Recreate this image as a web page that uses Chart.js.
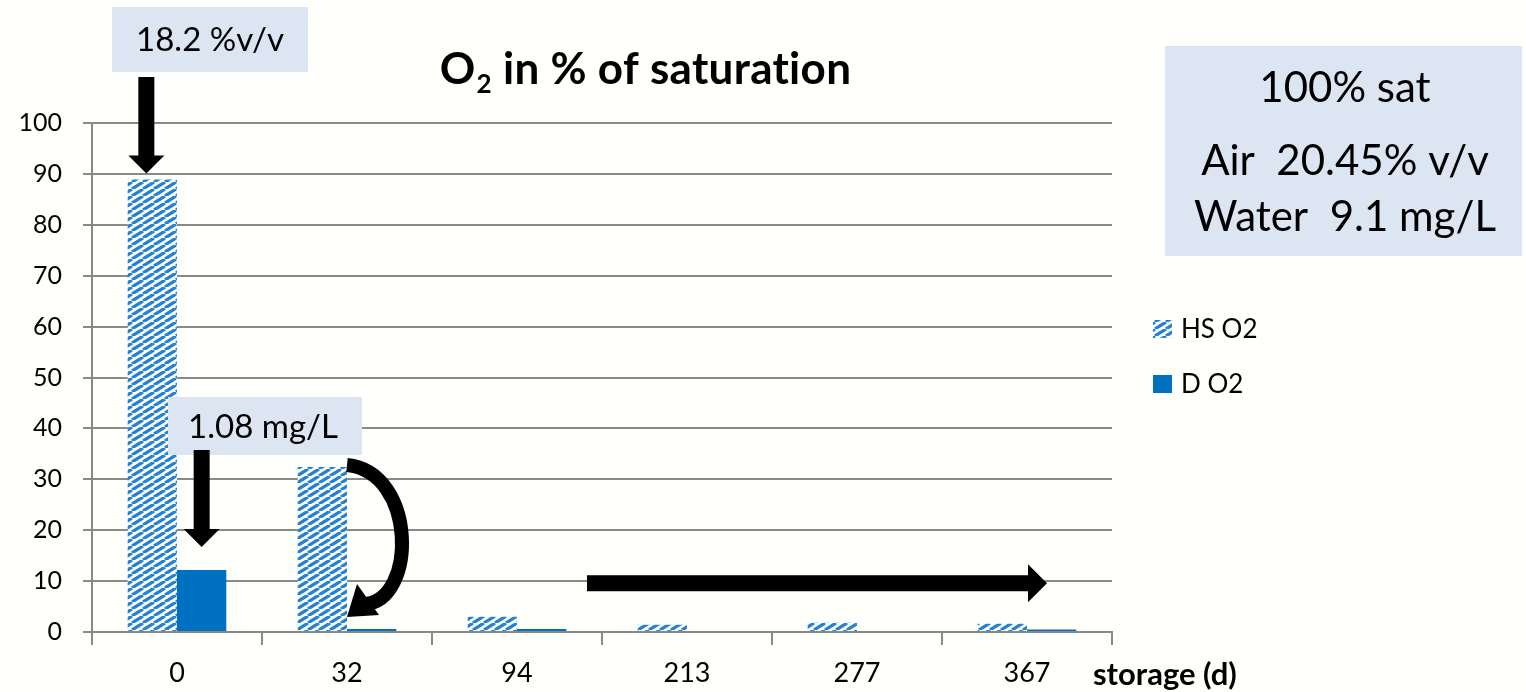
<!DOCTYPE html>
<html>
<head>
<meta charset="utf-8">
<script src="https://cdn.jsdelivr.net/npm/chart.js@4"></script>
<style>
  html, body { margin: 0; padding: 0; background: #fffffc; }
  canvas { display: block; }
</style>
</head>
<body>
<canvas id="chart" width="1526" height="692"></canvas>
<script>
var ctx = document.getElementById('chart').getContext('2d');

// storage time (days)
const days = ['0', '32', '94', '213', '277', '367'];
// headspace O2, % of saturation
const hsO2 = [88.9, 32.4, 3.0, 1.4, 1.8, 1.6];
// dissolved O2, % of saturation
const dO2 = [12.2, 0.6, 0.6, 0.0, 0.2, 0.5];
const yTicks = [0, 10, 20, 30, 40, 50, 60, 70, 80, 90, 100];

const FONT = 'Lato, "Open Sans", sans-serif';
const BLUE = '#0070c0';
const BOX = '#dce6f2';
const GRID = '#898989';

// diagonal hatch used by the headspace series
function hatch() {
  const c = document.createElement('canvas');
  c.width = 11; c.height = 7;
  const g = c.getContext('2d');
  g.fillStyle = '#ffffff';
  g.fillRect(0, 0, 11, 7);
  g.strokeStyle = '#2582d2';
  g.lineWidth = 3.2;
  for (let x = -11; x <= 11; x += 11) {
    g.beginPath();
    g.moveTo(x, 7);
    g.lineTo(x + 11, 0);
    g.stroke();
  }
  return ctx.createPattern(c, 'repeat');
}
const hsFill = hatch();

function box(c, x, y, w, h) {
  c.fillStyle = BOX;
  c.fillRect(x, y, w, h);
}

function text(c, s, x, y, size, bold, align) {
  c.font = (bold ? 'bold ' : '') + size + 'px ' + FONT;
  c.fillStyle = '#000';
  c.textAlign = align || 'center';
  c.textBaseline = 'middle';
  c.fillText(s, x, y);
}

function downArrow(c, x, y0, y1) {
  c.fillStyle = '#000';
  c.beginPath();
  c.moveTo(x - 8, y0);
  c.lineTo(x + 8, y0);
  c.lineTo(x + 8, y1 - 18);
  c.lineTo(x + 18, y1 - 18);
  c.lineTo(x, y1);
  c.lineTo(x - 18, y1 - 18);
  c.lineTo(x - 8, y1 - 18);
  c.closePath();
  c.fill();
}

function rightArrow(c, x0, x1, y) {
  c.fillStyle = '#000';
  c.beginPath();
  c.moveTo(x0, y - 8);
  c.lineTo(x1 - 19, y - 8);
  c.lineTo(x1 - 19, y - 19);
  c.lineTo(x1, y);
  c.lineTo(x1 - 19, y + 19);
  c.lineTo(x1 - 19, y + 8);
  c.lineTo(x0, y + 8);
  c.closePath();
  c.fill();
}

const annotations = {
  id: 'annotations',
  beforeDraw(chart) {
    const c = chart.ctx;
    c.save();
    c.fillStyle = '#fffffc';
    c.fillRect(0, 0, chart.width, chart.height);
    c.restore();
  },
  afterDraw(chart) {
    const c = chart.ctx;
    const y = chart.scales.y;
    const hs = chart.getDatasetMeta(0).data;
    const d = chart.getDatasetMeta(1).data;
    c.save();

    // title with subscript (tiny spacing keeps Lato from joining "ti")
    c.letterSpacing = '0.3px';
    c.textBaseline = 'alphabetic';
    c.fillStyle = '#000';
    c.font = 'bold 44px ' + FONT;
    const rest = ' in % of saturation';
    const wO = c.measureText('O').width;
    c.font = 'bold 26px ' + FONT;
    const w2 = c.measureText('2').width;
    c.font = 'bold 44px ' + FONT;
    const wr = c.measureText(rest).width;
    let tx = 645 - (wO + w2 + wr) / 2;
    c.textAlign = 'left';
    c.fillText('O', tx, 84);
    c.font = 'bold 26px ' + FONT;
    c.fillText('2', tx + wO + 1, 93);
    c.font = 'bold 44px ' + FONT;
    c.fillText(rest, tx + wO + w2 + 1, 84);
    c.letterSpacing = '0px';

    // headspace reading at day 0
    box(c, 112, 7, 196, 65);
    text(c, '18.2 %v/v', 210, 40, 33);
    downArrow(c, hs[0].x - 6, 77, hs[0].y - 6);

    // dissolved reading at day 0
    box(c, 168, 397, 194, 58);
    text(c, '1.08 mg/L', 263, 427, 33);
    downArrow(c, d[0].x, 450, d[0].y - 23);

    // curved arrow from day 32 headspace down to its dissolved bar
    const b = hs[1];
    const rx = b.x + b.width / 2;
    const by = y.getPixelForValue(0);
    c.strokeStyle = '#000';
    c.lineCap = 'butt';
    c.beginPath();
    c.moveTo(rx, b.y - 2);
    c.bezierCurveTo(rx + 70, b.y + 5, rx + 70, by - 32, rx + 18, by - 28);
    c.lineWidth = 14;
    c.stroke();
    c.fillStyle = '#000';
    c.beginPath();
    c.moveTo(rx, by - 15);
    c.lineTo(rx + 10, by - 48);
    c.lineTo(rx + 32, by - 17);
    c.closePath();
    c.fill();

    // long-term trend arrow
    rightArrow(c, 587, 1047, y.getPixelForValue(9.6));

    // saturation reference box
    box(c, 1165, 46, 357, 210);
    text(c, '100% sat', 1345, 88, 42);
    text(c, 'Air  20.45% v/v', 1345, 161, 42);
    text(c, 'Water  9.1 mg/L', 1345, 217, 42);

    // legend
    const items = [
      { label: 'HS O2', fill: hsFill, y: 329 },
      { label: 'D O2', fill: BLUE, y: 384 }
    ];
    items.forEach(function (it) {
      c.fillStyle = it.fill;
      c.fillRect(1153, it.y - 9, 19, 18);
      text(c, it.label, 1181, it.y + 1, 26, false, 'left');
    });

    // axis title beside the category labels
    text(c, 'storage (d)', 1093, 675, 31, true, 'left');

    c.restore();
  }
};

const data = {
  labels: days,
  datasets: [
    {
      label: 'HS O2',
      data: hsO2,
      backgroundColor: hsFill,
      borderWidth: 0
    },
    {
      label: 'D O2',
      data: dO2,
      backgroundColor: BLUE,
      borderWidth: 0
    }
  ]
};

const config = {
  type: 'bar',
  data: data,
  options: {
    responsive: false,
    animation: false,
    devicePixelRatio: 1,
    layout: {
      padding: { top: 123, right: 414, bottom: 0, left: 0 }
    },
    datasets: {
      bar: {
        categoryPercentage: 0.58,
        barPercentage: 1.0
      }
    },
    scales: {
      x: {
        grid: {
          offset: true,
          drawOnChartArea: false,
          color: GRID,
          lineWidth: 2,
          tickLength: 13
        },
        border: { color: GRID, width: 2 },
        ticks: {
          color: '#000',
          font: { family: FONT, size: 27 },
          padding: 12
        },
        afterFit: function (s) { s.height = 60; }
      },
      y: {
        min: 0,
        max: 100,
        afterBuildTicks: function (s) {
          s.ticks = yTicks.map(function (v) { return { value: v }; });
        },
        grid: {
          color: GRID,
          lineWidth: 2,
          tickLength: 9
        },
        border: { color: GRID, width: 2 },
        ticks: {
          color: '#000',
          font: { family: FONT, size: 25 },
          padding: 21
        },
        afterFit: function (s) { s.width = 92; }
      }
    },
    plugins: {
      legend: { display: false },
      title: { display: false },
      tooltip: { enabled: false }
    }
  },
  plugins: [annotations]
};

var chart = new Chart(ctx, config);
</script>
</body>
</html>
